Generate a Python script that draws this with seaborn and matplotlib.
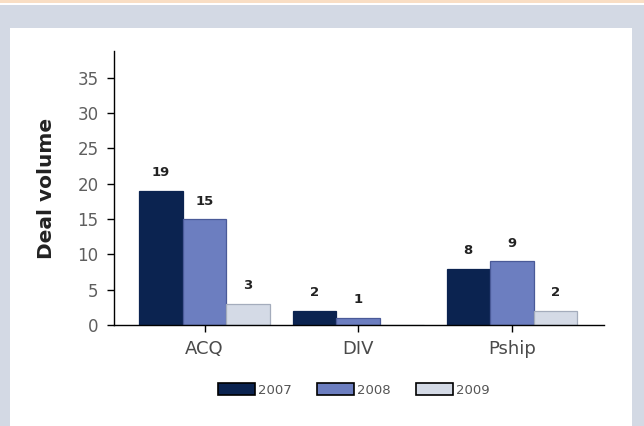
import matplotlib
matplotlib.use("Agg")
import matplotlib.pyplot as plt
from matplotlib.patches import Rectangle, Patch
import seaborn as sns
import pandas as pd
import numpy as np

categories = ["ACQ", "DIV", "Pship"]
years = ["2007", "2008", "2009"]
vol_2007 = [19, 2, 8]
vol_2008 = [15, 1, 9]
vol_2009 = [3, 0, 2]
y_ticks = [0, 5, 10, 15, 20, 25, 30, 35]

colors = {"2007": "#0b2350", "2008": "#6c7ec0", "2009": "#d4dae6"}
edges = {"2007": "#0b2350", "2008": "#4a5a98", "2009": "#a4acbc"}

rows = []
for yr, vals in zip(years, [vol_2007, vol_2008, vol_2009]):
    for c, v in zip(categories, vals):
        rows.append({"type": c, "year": yr, "volume": v})
df = pd.DataFrame(rows)

sns.set_style("white")
plt.rcParams["font.family"] = ["DejaVu Sans"]

fig = plt.figure(figsize=(6.44, 4.26), dpi=100)
fig.patch.set_facecolor("#d3d9e4")
# top strip and white panel
fig.patches.append(Rectangle((0, 1 - 3/426), 1, 3/426, transform=fig.transFigure,
                             facecolor="#f9dec4", edgecolor="none", zorder=-10))
fig.patches.append(Rectangle((0, 1 - 4.5/426), 1, 1.5/426, transform=fig.transFigure,
                             facecolor="white", edgecolor="none", zorder=-10))
fig.patches.append(Rectangle((10/644, 0), (632-10)/644, (426-28)/426, transform=fig.transFigure,
                             facecolor="white", edgecolor="none", zorder=-10))

ax = fig.add_axes([114/644, 1 - 325/426, (604-114)/644, (325-51)/426])
ax.set_facecolor("none")

sns.barplot(data=df, x="type", y="volume", hue="year", hue_order=years,
            order=categories, palette=colors, width=0.85, gap=0,
            saturation=1, ax=ax, legend=False, errorbar=None)

# edges and labels
bars = [p for p in ax.patches]
for i, yr in enumerate(years):
    vals = [vol_2007, vol_2008, vol_2009][i]
    for j in range(len(categories)):
        p = bars[i * len(categories) + j]
        p.set_edgecolor(edges[yr])
        p.set_linewidth(0.9)
        v = vals[j]
        if v > 0:
            ax.annotate(str(v), (p.get_x() + p.get_width() / 2, p.get_height()),
                        xytext=(0, 13), textcoords="offset points",
                        ha="center", va="center", fontsize=9.5, fontweight="bold",
                        color="#222222")

ax.set_xlim(-0.59, 2.6)
ax.set_ylim(0, 38.8)
ax.set_yticks(y_ticks)
ax.tick_params(axis="y", direction="out", length=5, width=1, color="black",
               labelsize=12, labelcolor="#5e5e5e", left=True, pad=6)
ax.tick_params(axis="x", direction="out", length=5, width=1, color="black",
               labelsize=13, labelcolor="#4a4a4a", bottom=True, pad=6)
for s in ["top", "right"]:
    ax.spines[s].set_visible(False)
for s in ["left", "bottom"]:
    ax.spines[s].set_color("black")
    ax.spines[s].set_linewidth(1.0)

ax.set_xlabel("")
ax.set_ylabel("Deal volume", fontsize=14.5, fontweight="bold", color="#222222")
ax.yaxis.set_label_coords(-0.118, 0.5)

handles = [Patch(facecolor=colors[y], edgecolor="black", linewidth=1.2) for y in years]
fig.legend(handles, years, loc="center", bbox_to_anchor=(354/644, 1 - 390/426),
           ncol=3, frameon=False, fontsize=9.5, labelcolor="#555555",
           handlelength=2.8, handleheight=1.0, handletextpad=0.25,
           columnspacing=1.9)

fig.savefig("out.png", dpi=100, facecolor=fig.get_facecolor())
